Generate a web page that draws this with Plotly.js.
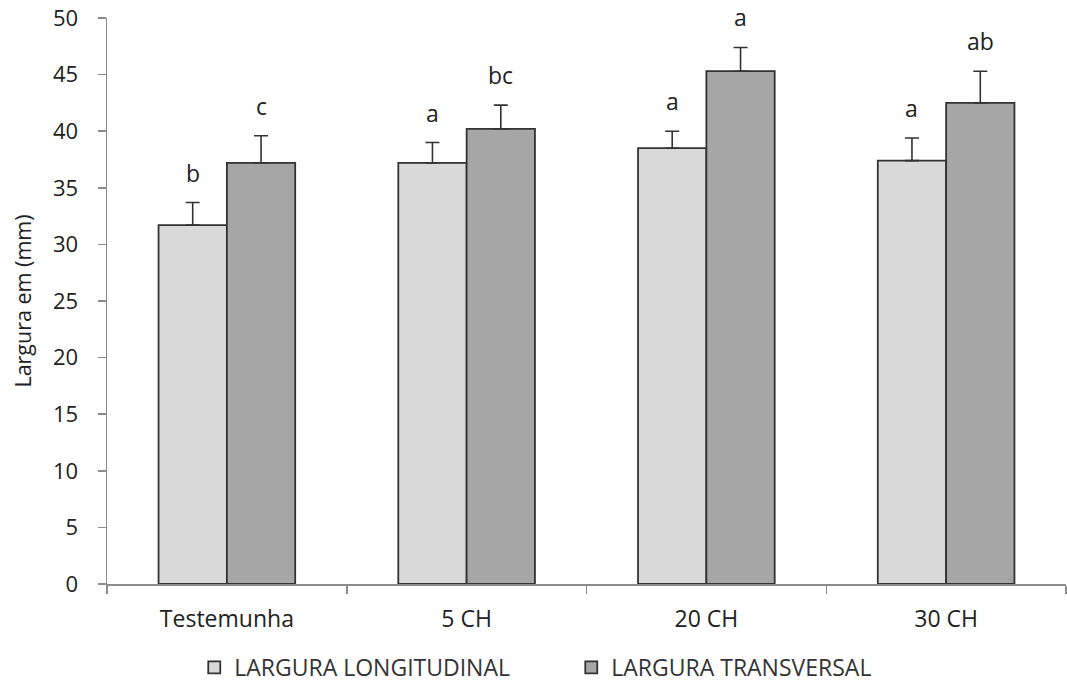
<!DOCTYPE html>
<html><head><meta charset="utf-8">
<script src="https://cdn.plot.ly/plotly-3.0.1.min.js"></script>
<style>html,body{margin:0;padding:0;background:#fff}</style>
</head><body>
<div id="chart" style="width:1067px;height:690px"></div>
<script>
const categories = ["Testemunha", "5 CH", "20 CH", "30 CH"];
const longitudinal = [31.7, 37.2, 38.5, 37.4];
const longitudinalErr = [2.0, 1.8, 1.5, 2.0];
const transversal = [37.2, 40.2, 45.3, 42.5];
const transversalErr = [2.4, 2.1, 2.1, 2.8];
const lettersLong = ["b", "a", "a", "a"];
const lettersTrans = ["c", "bc", "a", "ab"];
const seriesNames = ["LARGURA LONGITUDINAL", "LARGURA TRANSVERSAL"];

const FONT = "'Open Sans', Lato, sans-serif";
const zeros = categories.map(() => 0);

const traces = [
  {
    type: "bar", name: seriesNames[0], x: categories, y: longitudinal,
    marker: {color: "#d9d9d9", line: {color: "#333333", width: 1.8}},
    error_y: {type: "data", symmetric: false, array: longitudinalErr, arrayminus: zeros,
              color: "#333333", thickness: 1.6, width: 7}
  },
  {
    type: "bar", name: seriesNames[1], x: categories, y: transversal,
    marker: {color: "#a6a6a6", line: {color: "#333333", width: 1.8}},
    error_y: {type: "data", symmetric: false, array: transversalErr, arrayminus: zeros,
              color: "#333333", thickness: 1.6, width: 7}
  }
];

const offset = 0.1425;
const annotations = [];
categories.forEach((c, i) => {
  annotations.push({x: i - offset, y: longitudinal[i] + longitudinalErr[i], xref: "x", yref: "y",
    text: lettersLong[i], showarrow: false, yanchor: "bottom", yshift: 12,
    font: {family: FONT, size: 23, color: "#222"}});
  annotations.push({x: i + offset, y: transversal[i] + transversalErr[i], xref: "x", yref: "y",
    text: lettersTrans[i], showarrow: false, yanchor: "bottom", yshift: 12,
    font: {family: FONT, size: 23, color: "#222"}});
});

const layout = {
  width: 1067, height: 690,
  margin: {l: 106.5, r: 0.5, t: 18, b: 106, autoexpand: false},
  paper_bgcolor: "#fff", plot_bgcolor: "#fff",
  font: {family: FONT, color: "#333"},
  barmode: "group", bargap: 0.43, bargroupgap: 0,
  showlegend: true,
  legend: {orientation: "h", x: 0.091, xanchor: "left", y: -0.1855, yanchor: "bottom",
           font: {family: FONT, size: 23, color: "#333"}, entrywidth: 332, entrywidthmode: "pixels",
           itemwidth: 30},
  xaxis: {
    type: "category", range: [-0.5, 3.5], showgrid: false, zeroline: false,
    showline: true, linecolor: "#8c8c8c", linewidth: 1.5,
    ticks: "outside", tickson: "boundaries", ticklen: 8, tickcolor: "#8c8c8c", tickwidth: 1.5,
    tickfont: {family: FONT, size: 23, color: "#222"}, ticklabelstandoff: 14
  },
  yaxis: {
    range: [0, 50], dtick: 5, showgrid: false, zeroline: false,
    showline: true, linecolor: "#8c8c8c", linewidth: 1.5,
    ticks: "outside", ticklen: 8, tickcolor: "#8c8c8c", tickwidth: 1.5,
    tickfont: {family: FONT, size: 22, color: "#222"}, ticklabelstandoff: 15,
    title: {text: "Largura em (mm)", font: {family: FONT, size: 21.5, color: "#222"}, standoff: 15}
  },
  annotations: annotations
};

Plotly.newPlot("chart", traces, layout, {displayModeBar: false, staticPlot: true});
</script>
</body></html>
